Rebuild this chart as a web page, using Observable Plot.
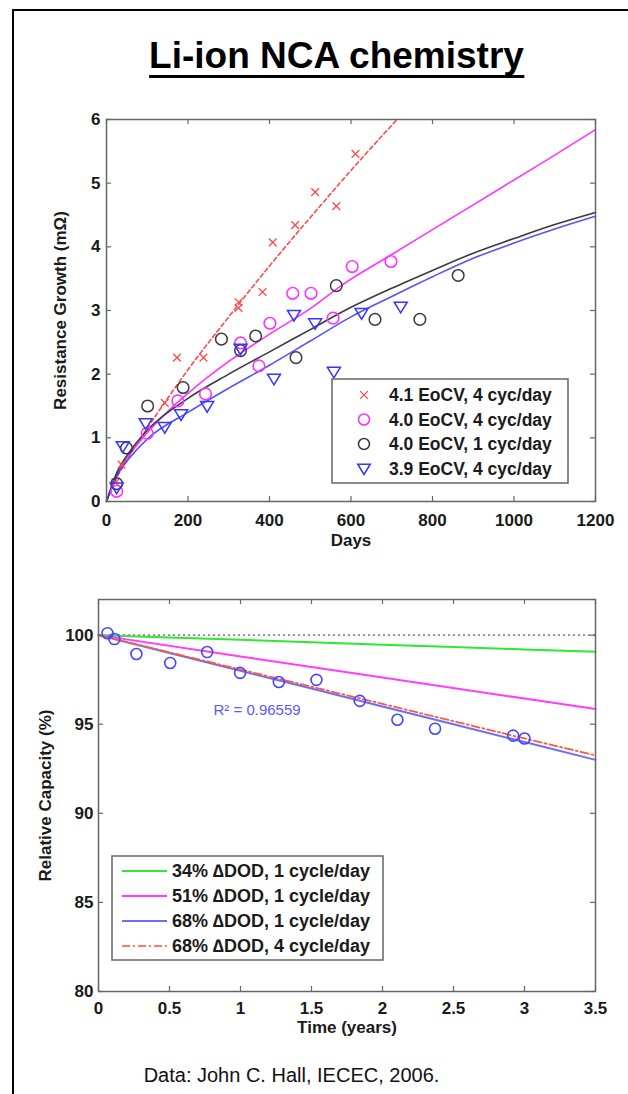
<!DOCTYPE html>
<html><head><meta charset="utf-8">
<script src="https://cdn.jsdelivr.net/npm/d3@7"></script>
<script src="https://cdn.jsdelivr.net/npm/@observablehq/plot@0.6"></script>
<style>
html,body{margin:0;padding:0;background:#fff;}
#page{position:relative;width:628px;height:1094px;overflow:hidden;background:#fff;font-family:"Liberation Sans",Arial,sans-serif;}
#border{position:absolute;left:12px;top:9px;width:1000px;height:2000px;border-left:2px solid #000;border-top:2px solid #000;}
.chart{position:absolute;left:0;}
#overlay{position:absolute;left:0;top:0;}
</style></head>
<body>
<div id="page">
<div id="border"></div>
<div id="top" class="chart" style="top:100px"></div>
<div id="bottom" class="chart" style="top:570px"></div>
<svg id="overlay" width="628" height="1094"></svg>
</div>
<script>
// ---------- Texts ----------
const titleText = "Li-ion NCA chemistry";
const captionText = "Data: John C. Hall, IECEC, 2006.";
const topXLabel = "Days";
const topYLabel = "Resistance Growth (mΩ)";
const botXLabel = "Time (years)";
const botYLabel = "Relative Capacity (%)";
const r2Text = "R² = 0.96559";

// ---------- Top chart data: [day, resistance growth mΩ] ----------
const topSeriesNames = ["4.1 EoCV, 4 cyc/day", "4.0 EoCV, 4 cyc/day", "4.0 EoCV, 1 cyc/day", "3.9 EoCV, 4 cyc/day"];
const pts41_4 = [[22,0.3],[37,0.58],[143,1.55],[173,2.26],[238,2.26],[324,3.04],[324,3.13],[383,3.29],[408,4.07],[463,4.34],[512,4.86],[564,4.64],[611,5.46]];
const pts40_4 = [[25,0.16],[100,1.07],[175,1.58],[243,1.69],[329,2.49],[374,2.13],[401,2.8],[457,3.27],[502,3.27],[556,2.88],[603,3.69],[698,3.77]];
const pts40_1 = [[25,0.28],[49,0.84],[101,1.5],[188,1.79],[282,2.55],[329,2.37],[366,2.6],[465,2.26],[564,3.39],[659,2.86],[769,2.86],[863,3.55]];
const pts39_4 = [[25,0.22],[40,0.87],[96,1.23],[143,1.17],[183,1.37],[247,1.5],[329,2.4],[411,1.93],[460,2.93],[512,2.8],[558,2.04],[626,2.96],[722,3.06]];
const fit41_4 = [[0,0],[25,0.37],[50,0.65],[100,1.15],[150,1.62],[200,2.07],[300,2.9],[400,3.7],[500,4.46],[600,5.2],[713,6.0]];
const fit40_4 = [[0,0],[25,0.42],[50,0.68],[100,1.08],[173,1.55],[200,1.7],[300,2.2],[403,2.64],[500,3.03],[578,3.4],[700,3.88],[800,4.27],[900,4.66],[1000,5.05],[1100,5.44],[1200,5.84]];
const fit40_1 = [[0,0],[25,0.45],[50,0.72],[100,1.12],[200,1.62],[300,2.0],[400,2.35],[500,2.7],[600,3.05],[700,3.35],[800,3.63],[900,3.9],[1000,4.13],[1100,4.35],[1200,4.54]];
const fit39_4 = [[0,0],[25,0.4],[50,0.63],[100,0.98],[200,1.4],[300,1.78],[400,2.14],[500,2.52],[600,2.9],[700,3.22],[800,3.53],[900,3.82],[1000,4.06],[1100,4.28],[1200,4.48]];
const topXTicks = [0,200,400,600,800,1000,1200];
const topYTicks = [0,1,2,3,4,5,6];
const topXDomain = [0,1200];
const topYDomain = [0,6];

// ---------- Bottom chart data: [years, relative capacity %] ----------
const botSeriesNames = ["34% ∆DOD, 1 cycle/day", "51% ∆DOD, 1 cycle/day", "68% ∆DOD, 1 cycle/day", "68% ∆DOD, 4 cycle/day"];
const pts68_1 = [[0.063,100.11],[0.112,99.78],[0.267,98.94],[0.505,98.44],[0.765,99.05],[0.997,97.88],[1.27,97.37],[1.535,97.49],[1.84,96.31],[2.105,95.25],[2.37,94.75],[2.92,94.36],[3.0,94.2]];
const fit34_1 = [[0,100],[0.5,99.87],[1,99.74],[1.5,99.6],[2,99.46],[2.5,99.33],[3,99.2],[3.5,99.07]];
const fit51_1 = [[0,100],[1,98.8],[2,97.62],[3,96.44],[3.5,95.85]];
const fit68_1 = [[0,100],[0.5,99.0],[1,98.0],[1.5,97.0],[2,96.0],[2.5,95.0],[3,94.0],[3.5,93.0]];
const fit68_4 = [[0,100],[1,98.07],[2,96.14],[3,94.2],[3.5,93.25]];
const refLevel = [100];
const botXTicks = [0,0.5,1,1.5,2,2.5,3,3.5];
const botYTicks = [80,85,90,95,100];
const botXDomain = [0,3.5];
const botYDomain = [80,102];

// ---------- Styles ----------
const FONT = '"Liberation Sans", Arial, sans-serif';
const axisColor = "#666";
const textColor = "#1a1a1a";
const cRed = "#ff4a4a", cMag = "#ff33ff", cBlk = "#3a3a3a", cBlue = "#3535ff";
const cGreen = "#2fe82f", cMag2 = "#ff3cff", cBlueLine = "#6c6cff", cBlueDot = "#4646ff", cRed2 = "#ff5a3c";
const W = 628, tickLen = 5;

const triDown = {draw(ctx, size){ const r = Math.sqrt(size/Math.PI); ctx.moveTo(-r*1.05,-r*0.72); ctx.lineTo(r*1.05,-r*0.72); ctx.lineTo(0,r*1.0); ctx.closePath(); }};
const X = d => d[0], Y = d => d[1];

function frameMarks(xt, yt, iw, ih){
  return [
    Plot.frame({stroke: axisColor, strokeWidth: 1.5}),
    Plot.tickX(xt, {x: d=>d, insetTop: ih - tickLen, stroke: axisColor, strokeWidth: 1.2}),
    Plot.tickX(xt, {x: d=>d, insetBottom: ih - tickLen, stroke: axisColor, strokeWidth: 1.2}),
    Plot.tickY(yt, {y: d=>d, insetRight: iw - tickLen, stroke: axisColor, strokeWidth: 1.2}),
    Plot.tickY(yt, {y: d=>d, insetLeft: iw - tickLen, stroke: axisColor, strokeWidth: 1.2})
  ];
}

// ---------- Top chart ----------
{
  const H = 460, mt = 19, mb = 59, ml = 106, mr = 33;
  const iw = W - ml - mr, ih = H - mt - mb;
  const p = Plot.plot({
    width: W, height: H, marginTop: mt, marginBottom: mb, marginLeft: ml, marginRight: mr,
    style: {fontFamily: FONT, background: "transparent", color: textColor},
    x: {domain: topXDomain}, y: {domain: topYDomain},
    marks: [
      Plot.line(fit41_4, {x: X, y: Y, stroke: cRed, strokeWidth: 1.6, strokeDasharray: "4,3", curve: "monotone-x", clip: true}),
      Plot.line(fit40_4, {x: X, y: Y, stroke: cMag, strokeWidth: 1.6, curve: "monotone-x"}),
      Plot.line(fit40_1, {x: X, y: Y, stroke: cBlk, strokeWidth: 1.6, curve: "monotone-x"}),
      Plot.line(fit39_4, {x: X, y: Y, stroke: cBlue, strokeWidth: 1.6, curve: "monotone-x", strokeOpacity: 0.85}),
      Plot.dot(pts41_4, {x: X, y: Y, symbol: "times", r: 3.6, stroke: cRed, strokeWidth: 1.3}),
      Plot.dot(pts40_4, {x: X, y: Y, r: 5.8, stroke: cMag, strokeWidth: 1.6, fill: "none"}),
      Plot.dot(pts40_1, {x: X, y: Y, r: 5.8, stroke: cBlk, strokeWidth: 1.5, fill: "none"}),
      Plot.dot(pts39_4, {x: X, y: Y, symbol: triDown, r: 6.2, stroke: cBlue, strokeWidth: 1.5, fill: "none"}),
      ...frameMarks(topXTicks, topYTicks, iw, ih),
      Plot.axisX({ticks: topXTicks, tickSize: 0, tickPadding: 12, tickFormat: d => String(d), label: null, fontSize: 17, fontWeight: "bold", fill: textColor}),
      Plot.axisY({ticks: topYTicks, tickSize: 0, tickPadding: 6, tickFormat: d => String(d), label: null, fontSize: 17, fontWeight: "bold", fill: textColor}),
      Plot.text([topXLabel], {text: d => d, frameAnchor: "bottom", lineAnchor: "middle", textAnchor: "middle", dy: 39, fontSize: 17, fontWeight: "bold", fill: textColor}),
      Plot.text([topYLabel], {text: d => d, frameAnchor: "left", lineAnchor: "middle", textAnchor: "middle", dx: -46, rotate: -90, fontSize: 17, fontWeight: "bold", fill: textColor})
    ]
  });
  document.getElementById("top").appendChild(p);
}

// ---------- Bottom chart ----------
{
  const H = 480, mt = 29, mb = 59, ml = 98, mr = 33;
  const iw = W - ml - mr, ih = H - mt - mb;
  const p = Plot.plot({
    width: W, height: H, marginTop: mt, marginBottom: mb, marginLeft: ml, marginRight: mr,
    style: {fontFamily: FONT, background: "transparent", color: textColor},
    x: {domain: botXDomain}, y: {domain: botYDomain},
    marks: [
      Plot.ruleY(refLevel, {y: d => d, stroke: "#888", strokeWidth: 1.6, strokeDasharray: "2,3"}),
      Plot.line(fit34_1, {x: X, y: Y, stroke: cGreen, strokeWidth: 2}),
      Plot.line(fit51_1, {x: X, y: Y, stroke: cMag2, strokeWidth: 2}),
      Plot.line(fit68_1, {x: X, y: Y, stroke: cBlueLine, strokeWidth: 2}),
      Plot.line(fit68_4, {x: X, y: Y, stroke: cRed2, strokeWidth: 1.8, strokeDasharray: "8,3,2,3"}),
      Plot.dot(pts68_1, {x: X, y: Y, r: 5.5, stroke: cBlueDot, strokeWidth: 1.6, fill: "none"}),
      Plot.text([r2Text], {text: d => d, frameAnchor: "top-left", lineAnchor: "middle", textAnchor: "start", dx: 115, dy: 111, fontSize: 15, fill: "#5a5aff"}),
      ...frameMarks(botXTicks, botYTicks, iw, ih),
      Plot.axisX({ticks: botXTicks, tickSize: 0, tickPadding: 10, tickFormat: d => String(d), label: null, fontSize: 17, fontWeight: "bold", fill: textColor}),
      Plot.axisY({ticks: botYTicks, tickSize: 0, tickPadding: 5, tickFormat: d => String(d), label: null, fontSize: 17, fontWeight: "bold", fill: textColor}),
      Plot.text([botXLabel], {text: d => d, frameAnchor: "bottom", lineAnchor: "middle", textAnchor: "middle", dy: 36, fontSize: 17, fontWeight: "bold", fill: textColor}),
      Plot.text([botYLabel], {text: d => d, frameAnchor: "left", lineAnchor: "middle", textAnchor: "middle", dx: -53, rotate: -90, fontSize: 17, fontWeight: "bold", fill: textColor})
    ]
  });
  document.getElementById("bottom").appendChild(p);
}

// ---------- Overlay: title, caption, legends ----------
{
  const svg = d3.select("#overlay").style("font-family", FONT);
  const t = svg.append("text").attr("x", 336.5).attr("y", 68).attr("text-anchor", "middle")
    .attr("font-size", 37).attr("font-weight", "bold").attr("fill", "#000").text(titleText);
  const bb = t.node().getBBox();
  svg.append("line").attr("x1", bb.x).attr("x2", bb.x + bb.width).attr("y1", 76.5).attr("y2", 76.5)
    .attr("stroke", "#000").attr("stroke-width", 3);
  svg.append("text").attr("x", 291.5).attr("y", 1082).attr("text-anchor", "middle")
    .attr("font-size", 20).attr("fill", "#111").text(captionText);

  // top legend
  const lg = svg.append("g");
  lg.append("rect").attr("x", 332).attr("y", 379).attr("width", 236).attr("height", 104)
    .attr("fill", "#fff").attr("stroke", axisColor).attr("stroke-width", 1.5);
  const topSym = [
    g => g.append("path").attr("d", d3.symbol(d3.symbolTimes, 3.6*3.6*Math.PI)()).attr("stroke", cRed).attr("stroke-width", 1.3).attr("fill", "none"),
    g => g.append("circle").attr("r", 5.5).attr("stroke", cMag).attr("stroke-width", 1.6).attr("fill", "none"),
    g => g.append("circle").attr("r", 5.5).attr("stroke", cBlk).attr("stroke-width", 1.5).attr("fill", "none"),
    g => g.append("path").attr("d", d3.symbol(triDown, 36*Math.PI)()).attr("stroke", cBlue).attr("stroke-width", 1.5).attr("fill", "none")
  ];
  topSeriesNames.forEach((name, i) => {
    const y = 395 + i * 24.5;
    topSym[i](lg.append("g").attr("transform", `translate(364,${y})`));
    lg.append("text").attr("x", 389).attr("y", y).attr("dy", "0.35em").attr("font-size", 17.5)
      .attr("font-weight", "bold").attr("fill", textColor).text(name);
  });

  // bottom legend
  const lb = svg.append("g");
  lb.append("rect").attr("x", 112).attr("y", 856).attr("width", 271).attr("height", 104)
    .attr("fill", "#fff").attr("stroke", axisColor).attr("stroke-width", 1.5);
  const botStyles = [
    {stroke: cGreen, dash: null}, {stroke: cMag2, dash: null}, {stroke: cBlueLine, dash: null}, {stroke: "#ff7a66", dash: "8,3,2,3"}
  ];
  botSeriesNames.forEach((name, i) => {
    const y = 871 + i * 25;
    const ln = lb.append("line").attr("x1", 122).attr("x2", 167).attr("y1", y).attr("y2", y)
      .attr("stroke", botStyles[i].stroke).attr("stroke-width", 2);
    if (botStyles[i].dash) ln.attr("stroke-dasharray", botStyles[i].dash);
    lb.append("text").attr("x", 172).attr("y", y).attr("dy", "0.35em").attr("font-size", 18)
      .attr("font-weight", "bold").attr("fill", textColor).text(name);
  });
}
</script>
</body></html>
